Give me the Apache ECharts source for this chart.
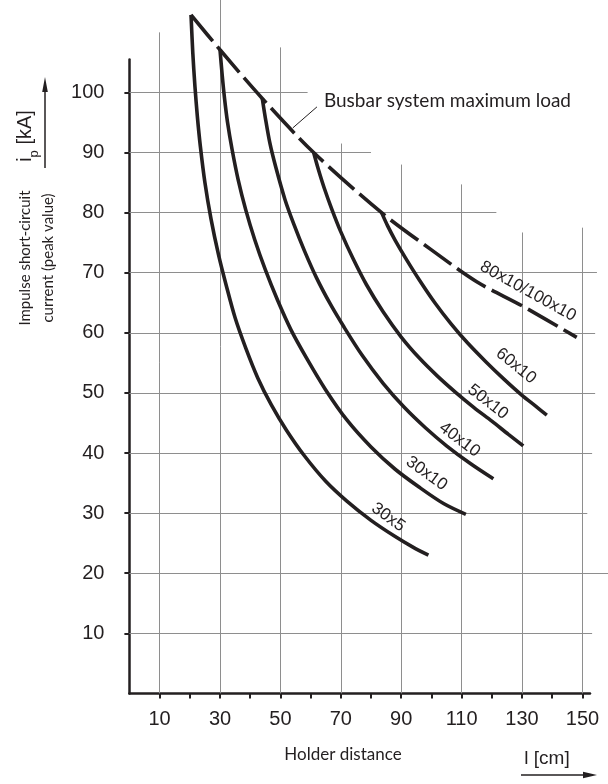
<!DOCTYPE html>
<html>
<head>
<meta charset="utf-8">
<script src="https://cdn.jsdelivr.net/npm/echarts@6/dist/echarts.min.js"></script>
<style>
html,body{margin:0;padding:0;background:#fff;}
#chart{width:608px;height:784px;}
</style>
</head>
<body>
<div id="chart"></div>
<script>
// axis ticks and labels
var xTicks = [10,20,30,40,50,60,70,80,90,100,110,120,130,140,150];
var xLabels = [10,30,50,70,90,110,130,150];
var yTicks = [10,20,30,40,50,60,70,80,90,100];

// grid lines (they stop at different heights / lengths in the drawing)
var gridX = [10,30,50,70,90,110,130,150];
var gridXTop = [110,115.5,107.5,91.5,88,84.7,76.7,77.5];
var gridY = [10,20,30,40,50,60,70,80,90,100];
var gridYEnd = [153.2,158.5,151.6,153.2,154.2,154.2,154.8,121.5,80,59];

// busbar system maximum load (dashed)
var maxLoad = [[20.4,112.9],[30,107.1],[44,99],[61,90],[83.5,80],[100,73.8],[115,68.5],[130,64.5],[148.1,59.25]];

// curves per busbar size
var c30x5 = [[20.4,112.9],[21,106.5],[21.7,101],[22.5,96],[23.5,91],[25,85],[27,79],[29.5,73],[32,68],[35,62.5],[38.5,57.5],[42.5,52.5],[47,48],[52,43.8],[58,39.5],[65,35.3],[72,32],[80,28.8],[88,26.1],[94,24.3],[99,23]];
var c30x10 = [[30,107.1],[30.7,103],[31.5,99],[32.5,95],[34,90.5],[36,85.5],[38.5,80.5],[41.5,75.5],[45,70.5],[49,65.5],[53.5,60.5],[59,55.5],[65,50.5],[72,45.5],[80,41],[88,37.3],[96,34.3],[104,31.6],[111.4,29.8]];
var c40x10 = [[44,99],[45,95.8],[46.5,91.6],[48.5,87.5],[51.5,82.2],[54.5,78],[58,73.6],[62,69.1],[66.5,64.8],[71,61],[77,56.3],[84,51.6],[91,47.6],[98,44.2],[105,41.2],[113,38.2],[120.5,35.7]];
var c50x10 = [[61,90],[62.5,87.3],[64.5,84.1],[67,80.6],[70,76.8],[74,72.4],[78.5,68],[84,63.5],[90,59.3],[96,55.8],[102,52.8],[108,50.1],[114,47.6],[120,45.3],[125.5,43.1],[130.4,41.2]];
var c60x10 = [[83.5,80],[85.5,77.8],[88,75.4],[91.5,72.4],[96,68.8],[101,65.1],[106.5,61.5],[112,58.3],[118,55.2],[124,52.3],[130,49.6],[134.5,47.8],[138.2,46.3]];

var curveNames = ['30x5','30x10','40x10','50x10','60x10','80x10/100x10'];
// where each name sits on the chart (value coords) and its tilt in degrees
var namePlaces = [[85.7,29.3],[98.4,36.6],[109.3,42.2],[118.7,48.5],[128,54.5],[132,66.9]];
var nameTilts = [36,36,37,38,39,29];

var ink = '#231f20';
var gridGray = '#8e8e8e';

var myChart = echarts.init(document.getElementById('chart'));

var gridSegs = [];
for (var i = 0; i < gridX.length; i++) {
    gridSegs.push({coords: [[gridX[i],0],[gridX[i],gridXTop[i]]]});
}
for (var j = 0; j < gridY.length; j++) {
    gridSegs.push({coords: [[0,gridY[j]],[gridYEnd[j],gridY[j]]]});
}

function curve(data){
    return {
        type: 'line',
        data: data,
        showSymbol: false,
        smooth: 0.3,
        clip: false,
        silent: true,
        z: 5,
        lineStyle: {color: ink, width: 3.6, cap: 'butt'}
    };
}

var dashed = curve(maxLoad);
dashed.lineStyle = {color: ink, width: 3.6, type: [34,7], cap: 'butt'};

var option = {
    animation: false,
    grid: {left: 129.4, right: 18, top: 59.4, bottom: 90.6},
    xAxis: {
        type: 'value',
        min: 0,
        max: 152.5,
        splitLine: {show: false},
        axisLine: {lineStyle: {color: ink, width: 2.5}},
        axisTick: {customValues: xTicks, length: 5, lineStyle: {color: ink, width: 2}},
        axisLabel: {customValues: xLabels, margin: 16, fontSize: 20, color: ink, fontFamily: 'Liberation Sans'}
    },
    yAxis: {
        type: 'value',
        min: 0,
        max: 105.5,
        splitLine: {show: false},
        axisLine: {show: true, lineStyle: {color: ink, width: 2.5}},
        axisTick: {show: true, customValues: yTicks, length: 5, lineStyle: {color: ink, width: 2}},
        axisLabel: {customValues: yTicks, margin: 25, fontSize: 20, color: ink, fontFamily: 'Liberation Sans'}
    },
    series: [
        {
            type: 'lines',
            coordinateSystem: 'cartesian2d',
            data: gridSegs,
            clip: false,
            silent: true,
            z: 1,
            lineStyle: {color: gridGray, width: 1, opacity: 1}
        },
        dashed,
        curve(c30x5),
        curve(c30x10),
        curve(c40x10),
        curve(c50x10),
        curve(c60x10)
    ]
};
myChart.setOption(option);

function px(p){
    return myChart.convertToPixel({gridIndex: 0}, p);
}

var graphics = [];

// names along the curves
for (var k = 0; k < curveNames.length; k++) {
    var p = px(namePlaces[k]);
    graphics.push({
        type: 'text', x: p[0], y: p[1], rotation: -nameTilts[k] * Math.PI / 180, z: 10,
        style: {text: curveNames[k], fontSize: 17, fontFamily: 'Liberation Sans', fill: ink, align: 'center', verticalAlign: 'middle'}
    });
}

// busbar max load note with leader
var noteAt = px([64.4,98.6]);
graphics.push({
    type: 'text', x: noteAt[0], y: noteAt[1], z: 10,
    style: {text: 'Busbar system maximum load', fontSize: 19, fontFamily: 'Lato', fill: ink, align: 'left', verticalAlign: 'middle'}
});
var l1 = px([62.1,97.6]), l2 = px([54.1,94.1]);
graphics.push({type: 'line', z: 10, shape: {x1: l1[0], y1: l1[1], x2: l2[0], y2: l2[1]}, style: {stroke: ink, lineWidth: 1}});

// y axis titles
graphics.push({
    type: 'text', x: 36.5, y: 258, rotation: Math.PI / 2,
    style: {text: 'Impulse short-circuit\ncurrent (peak value)', fontSize: 15, fontFamily: 'Lato', fill: ink, align: 'center', verticalAlign: 'middle', lineHeight: 23}
});
graphics.push({
    type: 'text', x: 28, y: 136, rotation: Math.PI / 2,
    style: {
        text: '{a|i}{s|p}{a| [kA]}', align: 'center', verticalAlign: 'middle', fill: ink,
        rich: {
            a: {fontSize: 20, fontFamily: 'Liberation Sans', fill: ink, verticalAlign: 'bottom', padding: [0,0,5,0]},
            s: {fontSize: 13, fontFamily: 'Liberation Sans', fill: ink, verticalAlign: 'bottom'}
        }
    }
});
graphics.push({type: 'line', shape: {x1: 45, y1: 168, x2: 45, y2: 86}, style: {stroke: ink, lineWidth: 1.5}});
graphics.push({type: 'polygon', shape: {points: [[45,77],[42.2,92],[47.8,92]]}, style: {fill: ink}});

// x axis titles
graphics.push({
    type: 'text', x: 343, y: 755,
    style: {text: 'Holder distance', fontSize: 17, fontFamily: 'Lato', fill: ink, align: 'center', verticalAlign: 'middle'}
});
graphics.push({
    type: 'text', x: 547, y: 759,
    style: {text: 'l [cm]', fontSize: 19, fontFamily: 'Liberation Sans', fill: ink, align: 'center', verticalAlign: 'middle'}
});
graphics.push({type: 'line', shape: {x1: 521, y1: 775, x2: 588, y2: 775}, style: {stroke: ink, lineWidth: 1.5}});
graphics.push({type: 'polygon', shape: {points: [[597,775],[583,771.8],[583,778.2]]}, style: {fill: ink}});

myChart.setOption({graphic: graphics});
</script>
</body>
</html>
